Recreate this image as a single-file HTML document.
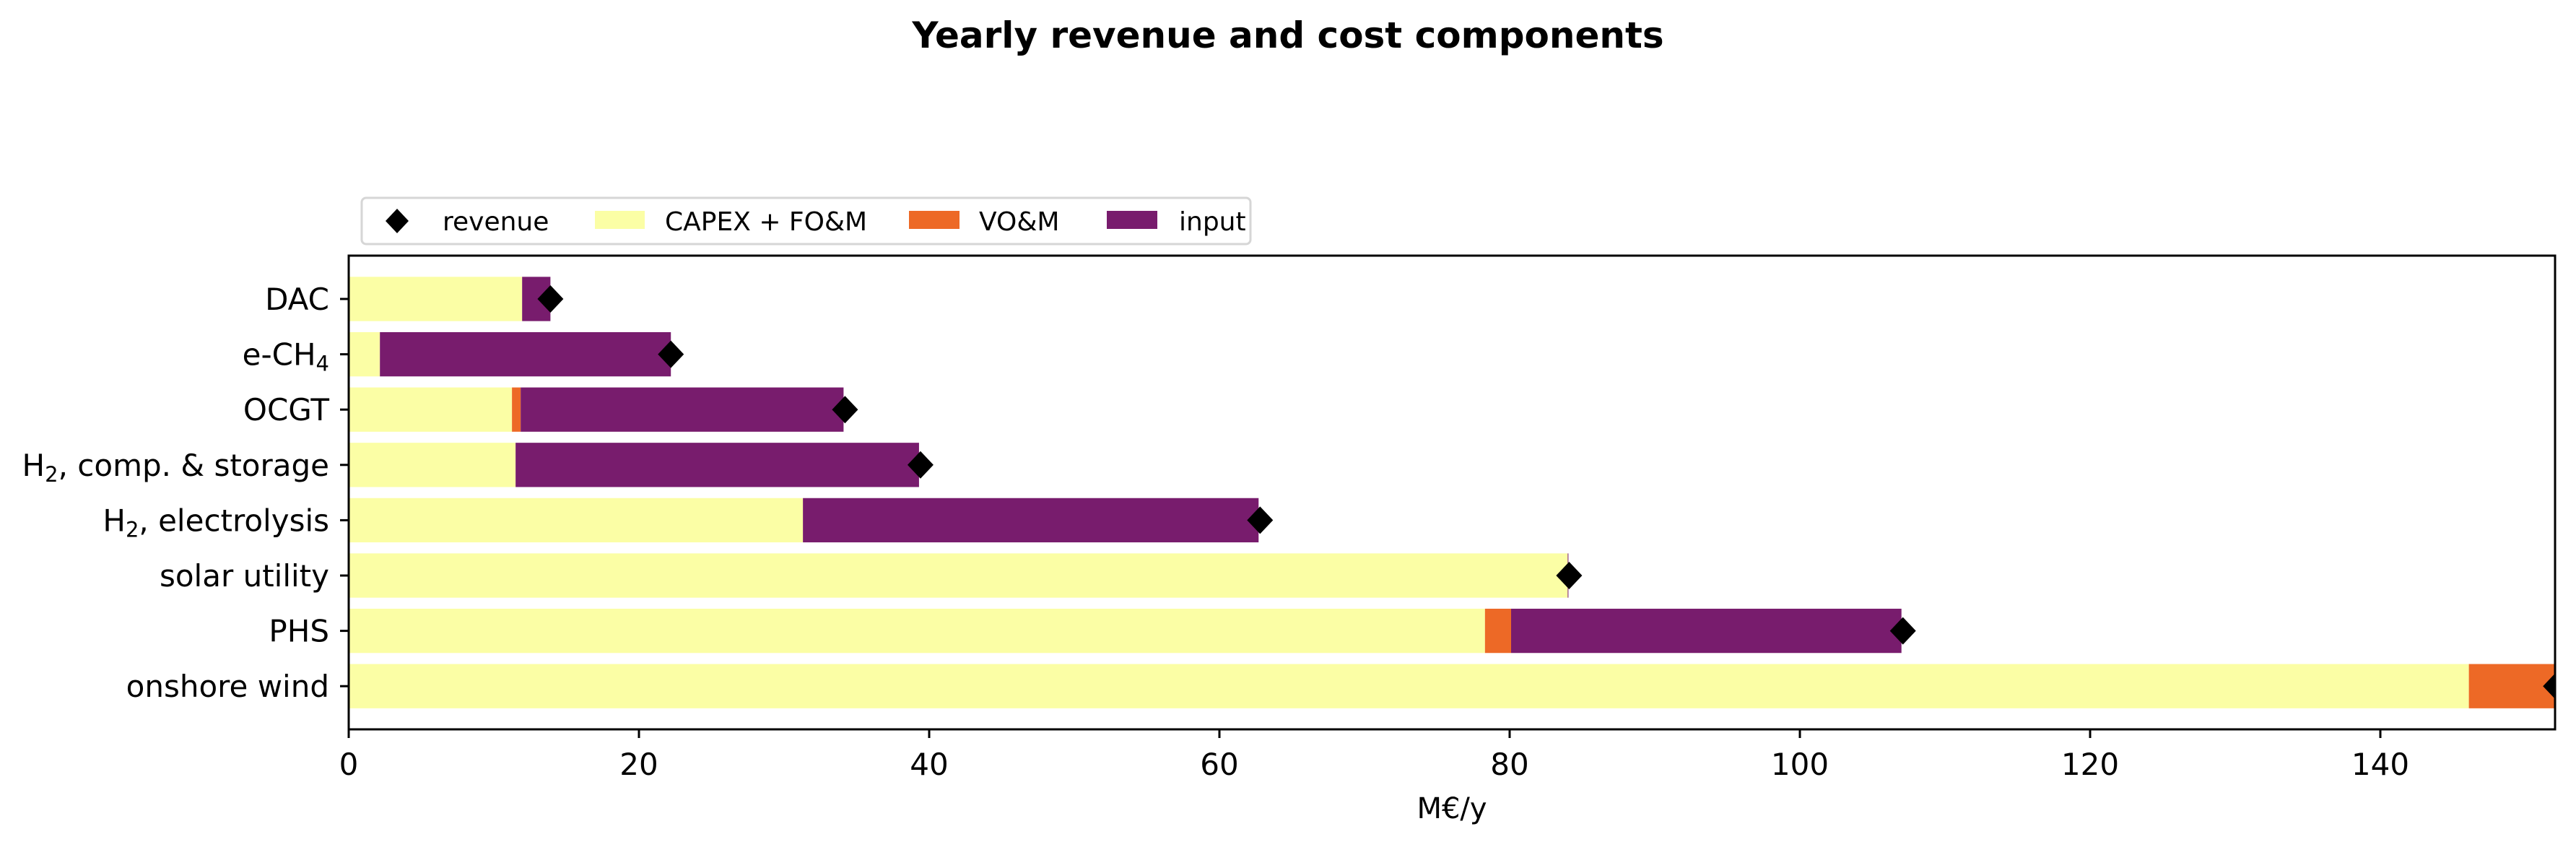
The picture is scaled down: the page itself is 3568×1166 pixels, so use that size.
<!DOCTYPE html>
<html><head><meta charset="utf-8"><style>
html,body{margin:0;padding:0;background:#fff;}
svg{display:block;font-family:"DejaVu Sans","Liberation Sans",sans-serif;}
</style></head><body>
<svg id="chart" width="3568" height="1166" viewBox="0 0 3568 1166" xmlns="http://www.w3.org/2000/svg">
<rect width="3568" height="1166" fill="#fff"/>
<text x="1784" y="66" text-anchor="middle" font-size="50" font-weight="bold">Yearly revenue and cost components</text>
<g id="bars"></g>
<g id="yaxis"></g>
<g id="xaxis"></g>
<rect x="483" y="354" width="3056" height="656" fill="none" stroke="#000" stroke-width="3"/>
<text x="2011" y="1133" text-anchor="middle" font-size="40">M€/y</text>
<g>
<rect x="501" y="274" width="1231" height="64" rx="6" fill="#fff" stroke="#d6d6d6" stroke-width="3"/>
<path d="M550 289 L566 306 L550 323 L534 306 Z" fill="#000"/>
<text x="613" y="319" font-size="36">revenue</text>
<rect x="824" y="292" width="69" height="25" fill="#fbfea5"/>
<text x="921" y="319" font-size="36">CAPEX + FO&amp;M</text>
<rect x="1259" y="292" width="70" height="25" fill="#ed6926"/>
<text x="1356" y="319" font-size="36">VO&amp;M</text>
<rect x="1533" y="292" width="70" height="25" fill="#781c6d"/>
<text x="1633" y="319" font-size="36">input</text>
</g>
</svg>
<script>
const categories = ["DAC","e-CH4","OCGT","H2, comp. & storage","H2, electrolysis","solar utility","PHS","onshore wind"];
const capex = [11.95, 2.15, 11.25, 11.5, 31.3, 84.0, 78.3, 146.1];
const vom = [0, 0, 0.6, 0, 0, 0, 1.8, 6.0];
const input = [1.95, 20.05, 22.25, 27.8, 31.4, 0.05, 26.9, 0];
const revenue = [13.9, 22.2, 34.2, 39.4, 62.8, 84.1, 107.1, 152.1];
const xTicks = [0, 20, 40, 60, 80, 100, 120, 140];

const NS = "http://www.w3.org/2000/svg";
const X0 = 483, PX = 20.1, XMAX = 3539;
const x = v => X0 + v * PX;
const Y0 = 414, STEP = 76.6, BH = 61.3;
const y = i => Y0 + i * STEP;
function mk(tag, attrs, parent){const e=document.createElementNS(NS,tag);for(const k in attrs)e.setAttribute(k,attrs[k]);parent.appendChild(e);return e;}
const bars = document.getElementById('bars');
const yaxis = document.getElementById('yaxis');
const xaxis = document.getElementById('xaxis');
const clip = mk('clipPath',{id:'pc'},document.getElementById('chart'));
mk('rect',{x:483,y:354,width:3056,height:656},clip);
bars.setAttribute('clip-path','url(#pc)');

categories.forEach((c,i)=>{
  const cy = y(i);
  const segs = [[0,capex[i],'#fbfea5','capex'],[capex[i],capex[i]+vom[i],'#ed6926','vom'],[capex[i]+vom[i],capex[i]+vom[i]+input[i],'#781c6d','input']];
  segs.forEach(s=>{
    if(s[1]-s[0]<=0) return;
    const r = mk('rect',{x:x(s[0]),y:cy-BH/2,width:(s[1]-s[0])*PX,height:BH,fill:s[2]},bars);
    
    
  });
  const rx = x(revenue[i]);
  const d = mk('path',{d:`M${rx} ${cy-19} L${rx+18} ${cy} L${rx} ${cy+19} L${rx-18} ${cy} Z`,fill:'#000'},bars);
  
  
  const t = mk('line',{x1:471,x2:483,y1:cy,y2:cy,stroke:'#000','stroke-width':3},yaxis);
  
  
  const lb = mk('text',{x:456,y:cy+15,'text-anchor':'end','font-size':42},yaxis);
  
  
  const m = c.match(/^(e-CH|H)(\d)(.*)$/);
  if(m){
    lb.appendChild(document.createTextNode(m[1]));
    const sub = mk('tspan',{'font-size':29,dy:8},lb); sub.textContent=m[2];
    const rest = mk('tspan',{dy:-8},lb); rest.textContent=m[3];
  } else lb.textContent = c;
});
xTicks.forEach(v=>{
  const tx = x(v);
  const t = mk('line',{x1:tx,x2:tx,y1:1010,y2:1022,stroke:'#000','stroke-width':3},xaxis);
  
  
  const lb = mk('text',{x:tx,y:1073,'text-anchor':'middle','font-size':42},xaxis);
  
  
  lb.textContent = v;
});
</script>
</body></html>
